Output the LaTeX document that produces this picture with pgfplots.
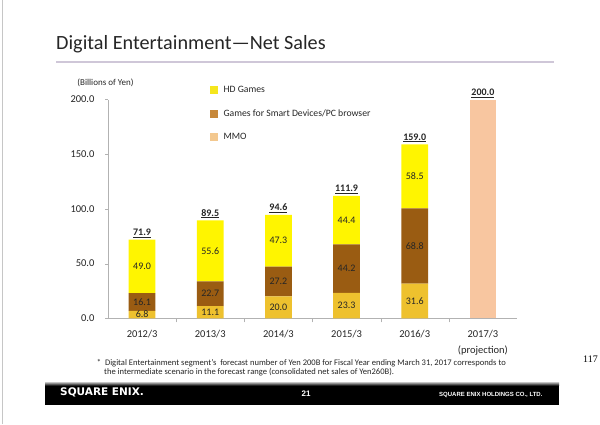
\documentclass[border=0pt]{standalone}
\usepackage{fontspec}
\setmainfont{Carlito}
\newfontfamily\logofont{DejaVu Sans}
\newfontfamily\footfont{Liberation Sans}
\newfontfamily\numfont{Liberation Serif}
\usepackage{pgfplots}
\usepackage{pgfplotstable}
\pgfplotsset{compat=1.18}
\definecolor{hdc}{HTML}{FFF500}
\definecolor{smc}{HTML}{9A5C12}
\definecolor{mmoc}{HTML}{EEC12E}
\definecolor{projc}{HTML}{F8C6A0}
\definecolor{hdleg}{HTML}{F5E61E}
\definecolor{smleg}{HTML}{C7883A}
\definecolor{mmoleg}{HTML}{F3C88F}
\definecolor{rulec}{HTML}{CFC7D8}
\definecolor{txt}{HTML}{262626}

% bar segments (categories at 0.5, 1.5, ...)
\pgfplotstableread{
x mmo smart hd proj
0.5 6.8 16.1 49.0 0
1.5 11.1 22.7 55.6 0
2.5 20.0 27.2 47.3 0
3.5 23.3 44.2 44.4 0
4.5 31.6 68.8 58.5 0
5.5 0 0 0 200.0
}\data
% value labels: position (segment middle / bar top) and text
\pgfplotstableread{
x y lab
0.5 3.4 6.8
0.5 14.85 16.1
0.5 47.4 49.0
1.5 5.55 11.1
1.5 22.45 22.7
1.5 61.6 55.6
2.5 10.0 20.0
2.5 33.6 27.2
2.5 70.85 47.3
3.5 11.65 23.3
3.5 45.4 44.2
3.5 89.7 44.4
4.5 15.8 31.6
4.5 66.0 68.8
4.5 129.65 58.5
}\seglabels
\pgfplotstableread{
x y lab
0.5 71.9 71.9
1.5 89.5 89.5
2.5 94.6 94.6
3.5 111.9 111.9
4.5 159.0 159.0
5.5 200.0 200.0
}\totals

\begin{document}
\begin{tikzpicture}[x=1pt,y=1pt]
\fill[white] (0,0) rectangle (600,424);
\draw[gray!45, line width=1.5pt] (2.5,0) -- (2.5,424);
% title
\node[anchor=base west, font=\fontsize{20.2}{24}\selectfont, text=txt, inner sep=0] at (56,374) {Digital Entertainment—Net Sales};
\draw[color=rulec, line width=2pt] (56,362.3) -- (554,362.3);
\node[font=\fontsize{9}{10}\selectfont, inner sep=0, text=txt] at (105.5,341) {(Billions of Yen)};

\begin{axis}[
  at={(108pt,105.7pt)}, anchor=origin, scale only axis,
  width=409pt, height=218.8pt,
  xmin=0, xmax=6, ymin=0, ymax=200,
  ybar stacked, bar width=26.7pt,
  axis x line*=bottom, axis y line*=left,
  axis line style={draw=gray!60, -},
  tick align=outside,
  ytick={0,50,100,150,200},
  yticklabels={0.0,50.0,100.0,150.0,200.0},
  xtick={0.5,1.5,2.5,3.5,4.5,5.5},
  xticklabels={2012/3,2013/3,2014/3,2015/3,2016/3,{2017/3\\(projection)}},
  minor xtick={1,2,3,4,5},
  major x tick style={draw=none},
  minor x tick style={draw=gray!60},
  ytick style={draw=gray!60},
  minor tick length=4pt, major tick length=3pt,
  /pgf/number format/assume math mode=true,
  xticklabel style={font=\fontsize{10.5}{16}\selectfont, align=center, text=txt, yshift=-5pt},
  yticklabel style={font=\fontsize{10.5}{12}\selectfont, text=txt, xshift=-7pt},
  legend style={at={(rel axis cs:0.242,1.08)}, anchor=north west, draw=none, fill=none,
     font=\fontsize{9.7}{12}\selectfont, row sep=11.5pt, text=txt},
  legend cell align=left,
]
\addlegendimage{legend image code/.code={\fill[hdleg] (0pt,-3.5pt) rectangle (7pt,3.5pt);}}
\addlegendentry{\hspace{4pt}HD Games}
\addlegendimage{legend image code/.code={\fill[smleg] (0pt,-3.5pt) rectangle (7pt,3.5pt);}}
\addlegendentry{\hspace{4pt}Games for Smart Devices/PC browser}
\addlegendimage{legend image code/.code={\fill[mmoleg] (0pt,-3.5pt) rectangle (7pt,3.5pt);}}
\addlegendentry{\hspace{4pt}MMO}

\addplot[fill=mmoc, draw=none, forget plot] table[x=x, y=mmo] {\data};
\addplot[fill=smc, draw=none, forget plot] table[x=x, y=smart] {\data};
\addplot[fill=hdc, draw=none, forget plot] table[x=x, y=hd] {\data};
\addplot[fill=projc, draw=none, forget plot] table[x=x, y=proj] {\data};
\end{axis}

% labels on an identical, hidden axis
\begin{axis}[
  at={(108pt,105.7pt)}, anchor=origin, scale only axis,
  width=409pt, height=218.8pt,
  xmin=0, xmax=6, ymin=0, ymax=200,
  hide axis,
]
\addplot[draw=none, mark=none, nodes near coords, point meta=explicit symbolic,
   every node near coord/.append style={anchor=center, font=\fontsize{10}{12}\selectfont, text=txt, inner sep=0pt}]
   table[x=x, y=y, meta=lab] {\seglabels};
\addplot[draw=none, mark=none, nodes near coords={\underline{\textbf{\pgfplotspointmeta}}},
   point meta=explicit symbolic,
   every node near coord/.append style={anchor=south, font=\fontsize{10}{12}\selectfont, text=txt, inner sep=2pt}]
   table[x=x, y=y, meta=lab] {\totals};
\end{axis}

% footnote
\node[anchor=west, font=\fontsize{8.55}{10}\selectfont, inner sep=0, text=txt] at (96.7,61.3)
  {*\ \ Digital Entertainment segment’s\ \ forecast number of Yen 200B for Fiscal Year ending March 31, 2017 corresponds to};
\node[anchor=west, font=\fontsize{8.55}{10}\selectfont, inner sep=0, text=txt] at (104,52.3)
  {the intermediate scenario in the forecast range (consolidated net sales of Yen260B).};
% footer bar
\fill[black] (45,19) rectangle (559,41.3);
\shade[top color=gray!75, bottom color=black] (45,38.3) rectangle (559,41.3);
\node[anchor=west, text=white, font=\logofont\bfseries\fontsize{10.5}{12}\selectfont, inner sep=0] at (60,32) {SQUARE ENIX.};
\node[text=white, font=\footfont\bfseries\fontsize{8}{9}\selectfont, inner sep=0] at (306,30) {21};
\node[anchor=west, text=white, font=\footfont\bfseries\fontsize{6}{7}\selectfont, inner sep=0] at (439,29) {SQUARE ENIX HOLDINGS CO., LTD.};
\node[anchor=west, font=\numfont\fontsize{10}{12}\selectfont, inner sep=0] at (583,65) {117};

\pgfresetboundingbox
\useasboundingbox (0,0) rectangle (600,424);
\end{tikzpicture}
\end{document}
